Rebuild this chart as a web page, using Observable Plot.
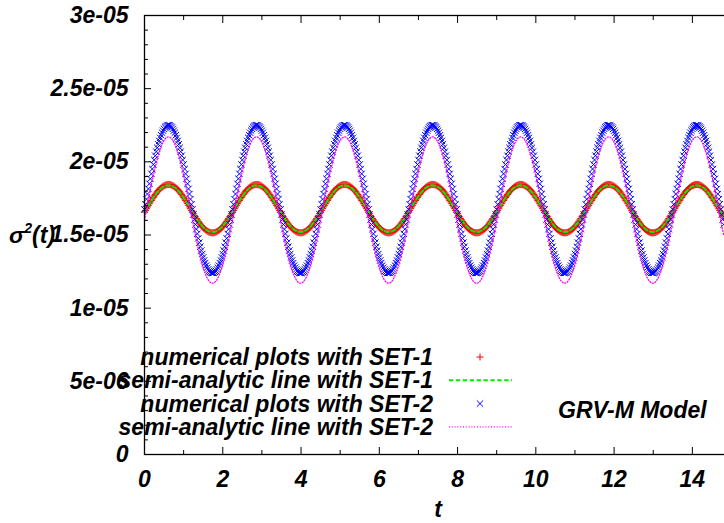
<!DOCTYPE html>
<html><head><meta charset="utf-8">
<script src="https://cdn.jsdelivr.net/npm/d3@7"></script>
<script src="https://cdn.jsdelivr.net/npm/@observablehq/plot@0.6"></script>
<style>
html,body{margin:0;padding:0;background:#fff;overflow:hidden;width:724px;height:523px}
</style></head><body><div id="chart"></div>
<script>
// sampling of the series along t
const pointStep = 0.025;   // numerical plots
const lineStep = 0.05;     // semi-analytic lines
const valueUnit = 1e-8;    // values below are in units of 1e-8

// numerical plots with SET-1 (red +)
const set1Numerical = [1657,1668,
1680,1692,1703,1714,1726,1736,1747,1757,1767,1777,1786,1795,1803,1810,1817,1823,1828,1833,1837,1840,1843,1844,1845,1845,1844,1843,1840,1837,1833,1828,1823,1817,1810,1803,1795,1786,1777,1767,1757,1747,1736,1726,1714,1703,1692,1680,1668,1657,1646,1634,1624,1613,1603,1593,1583,1574,1565,1557,1550,1543,1537,1532,1527,1523,1520,1517,1516,1515,1515,1516,1517,1520,1523,1527,1532,1537,1543,1550,1557,1565,1574,1583,1593,1603,1613,1624,1634,1646,1657,1668,
1680,1692,1703,1714,1726,1736,1747,1757,1767,1777,1786,1795,1803,1810,1817,1823,1828,1833,1837,1840,1843,1844,1845,1845,1844,1843,1840,1837,1833,1828,1823,1817,1810,1803,1795,1786,1777,1767,1757,1747,1736,1726,1714,1703,1692,1680,1668,1657,1646,1634,1624,1613,1603,1593,1583,1574,1565,1557,1550,1543,1537,1532,1527,1523,1520,1517,1516,1515,1515,1516,1517,1520,1523,1527,1532,1537,1543,1550,1557,1565,1574,1583,1593,1603,1613,1624,1634,1646,1657,1668,
1680,1692,1703,1714,1726,1736,1747,1757,1767,1777,1786,1795,1803,1810,1817,1823,1828,1833,1837,1840,1843,1844,1845,1845,1844,1843,1840,1837,1833,1828,1823,1817,1810,1803,1795,1786,1777,1767,1757,1747,1736,1726,1714,1703,1692,1680,1668,1657,1646,1634,1624,1613,1603,1593,1583,1574,1565,1557,1550,1543,1537,1532,1527,1523,1520,1517,1516,1515,1515,1516,1517,1520,1523,1527,1532,1537,1543,1550,1557,1565,1574,1583,1593,1603,1613,1624,1634,1646,1657,1668,
1680,1692,1703,1714,1726,1736,1747,1757,1767,1777,1786,1795,1803,1810,1817,1823,1828,1833,1837,1840,1843,1844,1845,1845,1844,1843,1840,1837,1833,1828,1823,1817,1810,1803,1795,1786,1777,1767,1757,1747,1736,1726,1714,1703,1692,1680,1668,1657,1646,1634,1624,1613,1603,1593,1583,1574,1565,1557,1550,1543,1537,1532,1527,1523,1520,1517,1516,1515,1515,1516,1517,1520,1523,1527,1532,1537,1543,1550,1557,1565,1574,1583,1593,1603,1613,1624,1634,1646,1657,1668,
1680,1692,1703,1714,1726,1736,1747,1757,1767,1777,1786,1795,1803,1810,1817,1823,1828,1833,1837,1840,1843,1844,1845,1845,1844,1843,1840,1837,1833,1828,1823,1817,1810,1803,1795,1786,1777,1767,1757,1747,1736,1726,1714,1703,1692,1680,1668,1657,1646,1634,1624,1613,1603,1593,1583,1574,1565,1557,1550,1543,1537,1532,1527,1523,1520,1517,1516,1515,1515,1516,1517,1520,1523,1527,1532,1537,1543,1550,1557,1565,1574,1583,1593,1603,1613,1624,1634,1646,1657,1668,
1680,1692,1703,1714,1726,1736,1747,1757,1767,1777,1786,1795,1803,1810,1817,1823,1828,1833,1837,1840,1843,1844,1845,1845,1844,1843,1840,1837,1833,1828,1823,1817,1810,1803,1795,1786,1777,1767,1757,1747,1736,1726,1714,1703,1692,1680,1668,1657,1646,1634,1624,1613,1603,1593,1583,1574,1565,1557,1550,1543,1537,1532,1527,1523,1520,1517,1516,1515,1515,1516,1517,1520,1523,1527,1532,1537,1543,1550,1557,1565,1574,1583,1593,1603,1613,1624,1634,1646,1657,1668,
1680,1692,1703,1714,1726,1736,1747,1757,1767,1777,1786,1795,1803,1810,1817,1823,1828,1833,1837,1840,1843,1844,1845,1845,1844,1843,1840,1837,1833,1828,1823,1817,1810,1803,1795,1786,1777,1767,1757,1747,1736,1726,1714,1703,1692,1680,1668,1657,1646,1634,1624];

// semi-analytic line with SET-1 (green dashed)
const set1Analytic = [1658,
1680,1702,1724,1745,1765,1783,1799,1813,1824,1832,1838,1840,1839,1835,1828,1819,1806,1791,1774,1755,1735,1713,1691,1669,1647,1625,1605,1586,1569,1554,1541,1532,1525,1521,1520,1522,1528,1536,1547,1561,1577,1595,1615,1636,1658,
1680,1702,1724,1745,1765,1783,1799,1813,1824,1832,1838,1840,1839,1835,1828,1819,1806,1791,1774,1755,1735,1713,1691,1669,1647,1625,1605,1586,1569,1554,1541,1532,1525,1521,1520,1522,1528,1536,1547,1561,1577,1595,1615,1636,1658,
1680,1702,1724,1745,1765,1783,1799,1813,1824,1832,1838,1840,1839,1835,1828,1819,1806,1791,1774,1755,1735,1713,1691,1669,1647,1625,1605,1586,1569,1554,1541,1532,1525,1521,1520,1522,1528,1536,1547,1561,1577,1595,1615,1636,1658,
1680,1702,1724,1745,1765,1783,1799,1813,1824,1832,1838,1840,1839,1835,1828,1819,1806,1791,1774,1755,1735,1713,1691,1669,1647,1625,1605,1586,1569,1554,1541,1532,1525,1521,1520,1522,1528,1536,1547,1561,1577,1595,1615,1636,1658,
1680,1702,1724,1745,1765,1783,1799,1813,1824,1832,1838,1840,1839,1835,1828,1819,1806,1791,1774,1755,1735,1713,1691,1669,1647,1625,1605,1586,1569,1554,1541,1532,1525,1521,1520,1522,1528,1536,1547,1561,1577,1595,1615,1636,1658,
1680,1702,1724,1745,1765,1783,1799,1813,1824,1832,1838,1840,1839,1835,1828,1819,1806,1791,1774,1755,1735,1713,1691,1669,1647,1625,1605,1586,1569,1554,1541,1532,1525,1521,1520,1522,1528,1536,1547,1561,1577,1595,1615,1636,1658,
1680,1702,1724,1745,1765,1783,1799,1813,1824,1832,1838,1840,1839,1835,1828,1819,1806,1791,1774,1755,1735,1713,1691,1669,1647,1625];

// numerical plots with SET-2 (blue x)
const set2Numerical = [1675,1710,
1745,1780,1815,1850,1884,1918,1951,1982,2013,2042,2070,2096,2120,2143,2164,2182,2199,2213,2225,2235,2242,2248,2250,2250,2248,2242,2235,2225,2213,2199,2182,2164,2143,2120,2096,2070,2042,2013,1982,1951,1918,1884,1850,1815,1780,1745,1710,1675,1640,1606,1572,1540,1508,1477,1448,1420,1394,1370,1347,1326,1308,1291,1277,1265,1255,1248,1242,1241,1241,1242,1248,1255,1265,1277,1291,1308,1326,1347,1370,1394,1420,1448,1477,1508,1540,1572,1606,1640,1675,1710,
1745,1780,1815,1850,1884,1918,1951,1982,2013,2042,2070,2096,2120,2143,2164,2182,2199,2213,2225,2235,2242,2248,2250,2250,2248,2242,2235,2225,2213,2199,2182,2164,2143,2120,2096,2070,2042,2013,1982,1951,1918,1884,1850,1815,1780,1745,1710,1675,1640,1606,1572,1540,1508,1477,1448,1420,1394,1370,1347,1326,1308,1291,1277,1265,1255,1248,1242,1241,1241,1242,1248,1255,1265,1277,1291,1308,1326,1347,1370,1394,1420,1448,1477,1508,1540,1572,1606,1640,1675,1710,
1745,1780,1815,1850,1884,1918,1951,1982,2013,2042,2070,2096,2120,2143,2164,2182,2199,2213,2225,2235,2242,2248,2250,2250,2248,2242,2235,2225,2213,2199,2182,2164,2143,2120,2096,2070,2042,2013,1982,1951,1918,1884,1850,1815,1780,1745,1710,1675,1640,1606,1572,1540,1508,1477,1448,1420,1394,1370,1347,1326,1308,1291,1277,1265,1255,1248,1242,1241,1241,1242,1248,1255,1265,1277,1291,1308,1326,1347,1370,1394,1420,1448,1477,1508,1540,1572,1606,1640,1675,1710,
1745,1780,1815,1850,1884,1918,1951,1982,2013,2042,2070,2096,2120,2143,2164,2182,2199,2213,2225,2235,2242,2248,2250,2250,2248,2242,2235,2225,2213,2199,2182,2164,2143,2120,2096,2070,2042,2013,1982,1951,1918,1884,1850,1815,1780,1745,1710,1675,1640,1606,1572,1540,1508,1477,1448,1420,1394,1370,1347,1326,1308,1291,1277,1265,1255,1248,1242,1241,1241,1242,1248,1255,1265,1277,1291,1308,1326,1347,1370,1394,1420,1448,1477,1508,1540,1572,1606,1640,1675,1710,
1745,1780,1815,1850,1884,1918,1951,1982,2013,2042,2070,2096,2120,2143,2164,2182,2199,2213,2225,2235,2242,2248,2250,2250,2248,2242,2235,2225,2213,2199,2182,2164,2143,2120,2096,2070,2042,2013,1982,1951,1918,1884,1850,1815,1780,1745,1710,1675,1640,1606,1572,1540,1508,1477,1448,1420,1394,1370,1347,1326,1308,1291,1277,1265,1255,1248,1242,1241,1241,1242,1248,1255,1265,1277,1291,1308,1326,1347,1370,1394,1420,1448,1477,1508,1540,1572,1606,1640,1675,1710,
1745,1780,1815,1850,1884,1918,1951,1982,2013,2042,2070,2096,2120,2143,2164,2182,2199,2213,2225,2235,2242,2248,2250,2250,2248,2242,2235,2225,2213,2199,2182,2164,2143,2120,2096,2070,2042,2013,1982,1951,1918,1884,1850,1815,1780,1745,1710,1675,1640,1606,1572,1540,1508,1477,1448,1420,1394,1370,1347,1326,1308,1291,1277,1265,1255,1248,1242,1241,1241,1242,1248,1255,1265,1277,1291,1308,1326,1347,1370,1394,1420,1448,1477,1508,1540,1572,1606,1640,1675,1710,
1745,1780,1815,1850,1884,1918,1951,1982,2013,2042,2070,2096,2120,2143,2164,2182,2199,2213,2225,2235,2242,2248,2250,2250,2248,2242,2235,2225,2213,2199,2182,2164,2143,2120,2096,2070,2042,2013,1982,1951,1918,1884,1850,1815,1780,1745,1710,1675,1640,1606,1572];

// semi-analytic line with SET-2 (magenta dotted)
const set2Analytic = [1601,
1670,1740,1808,1874,1935,1992,2042,2085,2120,2146,2163,2170,2168,2155,2134,2103,2064,2018,1964,1905,1841,1774,1705,1635,1566,1499,1436,1376,1323,1276,1237,1207,1185,1173,1171,1178,1195,1221,1256,1299,1349,1405,1467,1532,1601,
1670,1740,1808,1874,1935,1992,2042,2085,2120,2146,2163,2170,2168,2155,2134,2103,2064,2018,1964,1905,1841,1774,1705,1635,1566,1499,1436,1376,1323,1276,1237,1207,1185,1173,1171,1178,1195,1221,1256,1299,1349,1405,1467,1532,1601,
1670,1740,1808,1874,1935,1992,2042,2085,2120,2146,2163,2170,2168,2155,2134,2103,2064,2018,1964,1905,1841,1774,1705,1635,1566,1499,1436,1376,1323,1276,1237,1207,1185,1173,1171,1178,1195,1221,1256,1299,1349,1405,1467,1532,1601,
1670,1740,1808,1874,1935,1992,2042,2085,2120,2146,2163,2170,2168,2155,2134,2103,2064,2018,1964,1905,1841,1774,1705,1635,1566,1499,1436,1376,1323,1276,1237,1207,1185,1173,1171,1178,1195,1221,1256,1299,1349,1405,1467,1532,1601,
1670,1740,1808,1874,1935,1992,2042,2085,2120,2146,2163,2170,2168,2155,2134,2103,2064,2018,1964,1905,1841,1774,1705,1635,1566,1499,1436,1376,1323,1276,1237,1207,1185,1173,1171,1178,1195,1221,1256,1299,1349,1405,1467,1532,1601,
1670,1740,1808,1874,1935,1992,2042,2085,2120,2146,2163,2170,2168,2155,2134,2103,2064,2018,1964,1905,1841,1774,1705,1635,1566,1499,1436,1376,1323,1276,1237,1207,1185,1173,1171,1178,1195,1221,1256,1299,1349,1405,1467,1532,1601,
1670,1740,1808,1874,1935,1992,2042,2085,2120,2146,2163,2170,2168,2155,2134,2103,2064,2018,1964,1905,1841,1774,1705,1635,1566,1499];

const xTicks = [0, 2, 4, 6, 8, 10, 12, 14];
const xTickLabels = ["0", "2", "4", "6", "8", "10", "12", "14"];
const xMinorTicks = [1, 3, 5, 7, 9, 11, 13, 15];
const yTicks = [0, 5e-6, 1e-5, 1.5e-5, 2e-5, 2.5e-5, 3e-5];
const yTickLabels = ["0", "5e-06", "1e-05", "1.5e-05", "2e-05", "2.5e-05", "3e-05"];
const yMinorTicks = [1e-6,2e-6,3e-6,4e-6,6e-6,7e-6,8e-6,9e-6,1.1e-5,1.2e-5,1.3e-5,1.4e-5,1.6e-5,1.7e-5,1.8e-5,1.9e-5,2.1e-5,2.2e-5,2.3e-5,2.4e-5,2.6e-5,2.7e-5,2.8e-5,2.9e-5];
const xLabel = "t";
const legendLabels = ["numerical plots with SET-1", "semi-analytic line with SET-1", "numerical plots with SET-2", "semi-analytic line with SET-2"];
const legendColors = ["#ff0000", "#00ee00", "#0000ff", "#ff00ff"];
const annotation = "GRV-M Model";

const rows = (vals, step) => vals.map((v, i) => ({t: i * step, v: v * valueUnit}));
const d1n = rows(set1Numerical, pointStep);
const d1a = rows(set1Analytic, lineStep);
const d2n = rows(set2Numerical, pointStep);
const d2a = rows(set2Analytic, lineStep);

const FONT = "'Liberation Sans', Arial, Helvetica, sans-serif";
const fmtX = d => xTickLabels[xTicks.indexOf(d)];
const fmtY = d => yTickLabels[yTicks.indexOf(d)];
const blank = () => "";
const magentaDash = "1,1.8";
const greenDash = "4.3,2.6";

const chart = Plot.plot({
  width: 732, height: 523,
  marginLeft: 144, marginRight: 1, marginTop: 15, marginBottom: 69,
  style: `max-width:none;background:white;font-family:${FONT};font-size:23px;font-weight:bold;font-style:italic;`,
  x: {domain: [0, 15], label: null},
  y: {domain: [0, 3e-5], label: null},
  marks: [
    Plot.dot(d1n, {x: "t", y: "v", symbol: "plus", r: 2.4, stroke: legendColors[0], strokeWidth: 1, fill: "none"}),
    Plot.line(d1a, {x: "t", y: "v", stroke: legendColors[1], strokeWidth: 2, strokeDasharray: greenDash, curve: "catmull-rom"}),
    Plot.dot(d2n, {x: "t", y: "v", symbol: "times", r: 3, stroke: legendColors[2], strokeWidth: 1, fill: "none"}),
    Plot.line(d2a, {x: "t", y: "v", stroke: legendColors[3], strokeWidth: 1.3, strokeDasharray: magentaDash, curve: "catmull-rom"}),
    Plot.frame({stroke: "black", strokeWidth: 1.3}),
    Plot.axisX(xTicks, {anchor: "bottom", tickSize: -7, tickFormat: blank, label: null}),
    Plot.axisX(xMinorTicks, {anchor: "bottom", tickSize: -4, tickFormat: blank, label: null}),
    Plot.axisX(xTicks, {anchor: "top", tickSize: -7, tickFormat: blank, label: null}),
    Plot.axisX(xMinorTicks, {anchor: "top", tickSize: -4, tickFormat: blank, label: null}),
    Plot.axisY(yTicks, {anchor: "left", tickSize: -7, tickFormat: blank, label: null}),
    Plot.axisY(yMinorTicks, {anchor: "left", tickSize: -4, tickFormat: blank, label: null}),
    Plot.axisX(xTicks, {anchor: "bottom", tickSize: 0, tickPadding: 16, tickFormat: fmtX, label: null, fill: "black"}),
    Plot.axisY(yTicks, {anchor: "left", tickSize: 0, tickPadding: 16, tickFormat: fmtY, label: null, fill: "black"}),
    Plot.text([xLabel], {text: d => d, frameAnchor: "bottom", dy: 55, lineAnchor: "middle", fill: "black"})
  ]
});

const svg = d3.select(chart);
// y-axis title sigma^2(t)
const yl = svg.append("text").attr("x", 9).attr("y", 243).attr("text-anchor", "start")
  .attr("fill", "black").style("font-size", "23px");
yl.append("tspan").text("σ");
yl.append("tspan").attr("dy", -10).style("font-size", "14px").text("2");
yl.append("tspan").attr("dy", 10).text("(t)");

// legend
const lg = svg.append("g").style("font-size", "23px");
legendLabels.forEach((lab, i) => {
  const cy = 357 + i * 23.3;
  lg.append("text").attr("x", 433).attr("y", cy + 8).attr("text-anchor", "end").attr("fill", "black").text(lab);
  if (i === 0 || i === 2) {
    const sym = i === 0 ? d3.symbolPlus : d3.symbolTimes;
    const r = i === 0 ? 2.4 : 3;
    lg.append("path").attr("transform", `translate(480,${cy})`)
      .attr("d", d3.symbol(sym, Math.PI * r * r)())
      .attr("fill", "none").attr("stroke", legendColors[i]).attr("stroke-width", 1);
  } else {
    lg.append("line").attr("x1", 449).attr("x2", 512).attr("y1", cy).attr("y2", cy)
      .attr("stroke", legendColors[i])
      .attr("stroke-width", i === 1 ? 2 : 1.3)
      .attr("stroke-dasharray", i === 1 ? greenDash : magentaDash);
  }
});
svg.append("text").attr("x", 558).attr("y", 418).attr("text-anchor", "start")
  .attr("fill", "black").style("font-size", "23px").text(annotation);

document.getElementById("chart").appendChild(chart);
</script>
</body></html>
